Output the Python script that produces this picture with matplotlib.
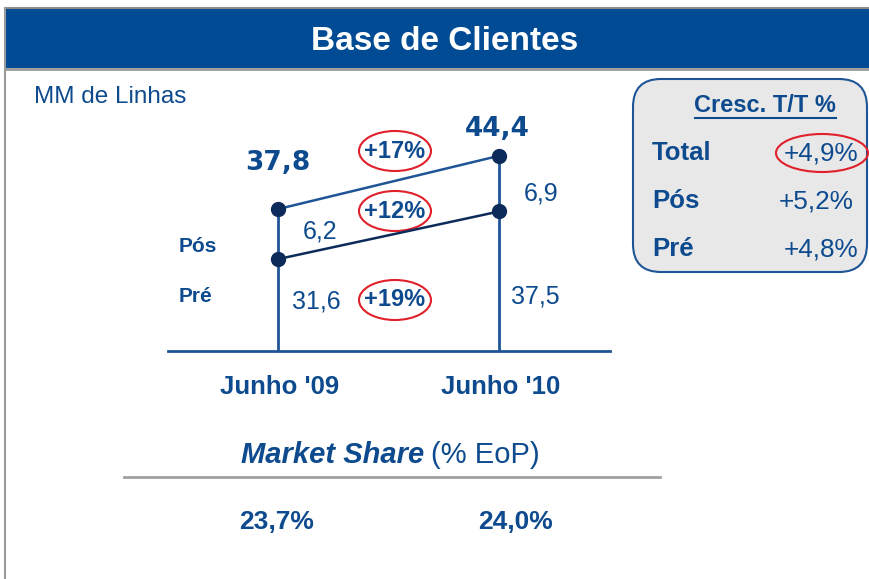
import matplotlib
matplotlib.use("Agg")
import matplotlib.pyplot as plt
from matplotlib.patches import Ellipse, FancyBboxPatch, Rectangle

# data
periods = ["Junho '09", "Junho '10"]
pre = [31.6, 37.5]
pos = [6.2, 6.9]
total = [37.8, 44.4]
total_labels = ["37,8", "44,4"]
pos_labels = ["6,2", "6,9"]
pre_labels = ["31,6", "37,5"]
growth = ["+17%", "+12%", "+19%"]
share = ["23,7%", "24,0%"]
box_rows = ["Total", "Pós", "Pré"]
box_vals = ["+4,9%", "+5,2%", "+4,8%"]

BLUE = "#0d4a8e"
HEAD = "#004b93"
NAVY = "#0c2b5a"
RED = "#e0202a"
SANS = ["Liberation Sans", "DejaVu Sans"]

fig = plt.figure(figsize=(8.7, 5.79), dpi=100)

# overlay in pixel coordinates
ov = fig.add_axes([0, 0, 1, 1])
ov.set_xlim(0, 870)
ov.set_ylim(579, 0)
ov.axis("off")

# frame and header
ov.add_patch(Rectangle((6, 9), 870, 59, fc=HEAD, ec="none"))
ov.plot([5, 870], [8, 8], color="#8c8c8c", lw=1.5)
ov.plot([5, 870], [69, 69], color="#9a9a9a", lw=2)
ov.plot([5, 5], [8, 579], color="#9a9a9a", lw=1.5)
ov.text(445, 41, "Base de Clientes", color="white", fontsize=24, fontweight="bold",
        family=SANS, ha="center", va="center")

ov.text(34, 97, "MM de Linhas", color=BLUE, fontsize=17.5, family=SANS, va="center")
ov.text(179, 246, "Pós", color=BLUE, fontsize=15, fontweight="bold", family=SANS, va="center")
ov.text(179, 296, "Pré", color=BLUE, fontsize=15, fontweight="bold", family=SANS, va="center")

# growth labels with red ellipses
for lab, y in zip(growth, [151, 211, 300]):
    ov.text(395, y, lab, color=BLUE, fontsize=17, fontweight="bold", family=SANS,
            ha="center", va="center")
    ov.add_patch(Ellipse((395, y), 72, 40, fc="none", ec=RED, lw=1.5))

# chart axes
ybase = 20.2
ax = fig.add_axes([168 / 870, (579 - 351) / 579, 442 / 870, 251 / 579])
ax.set_xlim(-0.5, 1.5)
ax.set_ylim(ybase, 51.3)
ax.axis("off")
ax.patch.set_visible(False)
x = [0, 1]
ax.plot([-0.5, 1.5], [ybase, ybase], color="#1f5596", lw=2, clip_on=False)
ax.vlines(x, ybase, total, color="#1f5596", lw=2)
ax.plot(x, total, color="#1f5596", lw=1.8)
ax.plot(x, pre, color=NAVY, lw=1.8)
ax.plot(x, total, "o", color=NAVY, ms=10)
ax.plot(x, pre, "o", color=NAVY, ms=10)

for xi, t, lab, off in zip(x, total, total_labels, [(-1, 46), (-2, 27)]):
    ax.annotate(lab, (xi, t), xytext=off, textcoords="offset pixels", ha="center", va="center",
                color=BLUE, fontsize=19, fontweight="bold", family="DejaVu Sans")
for xi, p, lab, off in zip(x, pre, pos_labels, [(42, 27), (42, 18)]):
    ax.annotate(lab, (xi, p), xytext=off, textcoords="offset pixels", ha="center", va="center",
                color=BLUE, fontsize=18, family=SANS)
for xi, p, lab, off in zip(x, pre, pre_labels, [(38, -43), (36, -85)]):
    ax.annotate(lab, (xi, p), xytext=off, textcoords="offset pixels", ha="center", va="center",
                color=BLUE, fontsize=18, family=SANS)
for xi, lab in zip(x, periods):
    ax.annotate(lab, (xi, ybase), xytext=(1, -36), textcoords="offset pixels", ha="center",
                va="center", color=BLUE, fontsize=18.5, fontweight="bold", family=SANS)

# market share
ov.text(424, 455, "Market Share", color=BLUE, fontsize=21, fontweight="bold", style="italic",
        family=SANS, ha="right", va="center")
ov.text(431, 455, "(% EoP)", color=BLUE, fontsize=21, family=SANS, ha="left", va="center")
ov.plot([124, 660], [477, 477], color="#a0a0a0", lw=2)
for xc, s in zip([277, 516], share):
    ov.text(xc, 522, s, color=BLUE, fontsize=19, fontweight="bold", family=SANS,
            ha="center", va="center")

# growth box
ov.add_patch(FancyBboxPatch((633, 79), 234, 193, boxstyle="round,pad=0,rounding_size=28",
                            fc="#e8e8e8", ec="#1f5596", lw=1.5))
ov.text(765, 105, "Cresc. T/T %", color=BLUE, fontsize=17, fontweight="bold", family=SANS,
        ha="center", va="center")
ov.plot([695, 836], [118, 118], color=BLUE, lw=1.5)
for i, (r, v) in enumerate(zip(box_rows, box_vals)):
    y = 153 + 48 * i
    ov.text(652, y, r, color=BLUE, fontsize=18.5, fontweight="bold", family=SANS, va="center")
    ov.text(858 if i != 1 else 854, y, v, color=BLUE, fontsize=18.8, family=SANS,
            ha="right", va="center")
ov.add_patch(Ellipse((822, 153), 92, 38, fc="none", ec=RED, lw=1.5))

fig.savefig("out.png", dpi=100)
